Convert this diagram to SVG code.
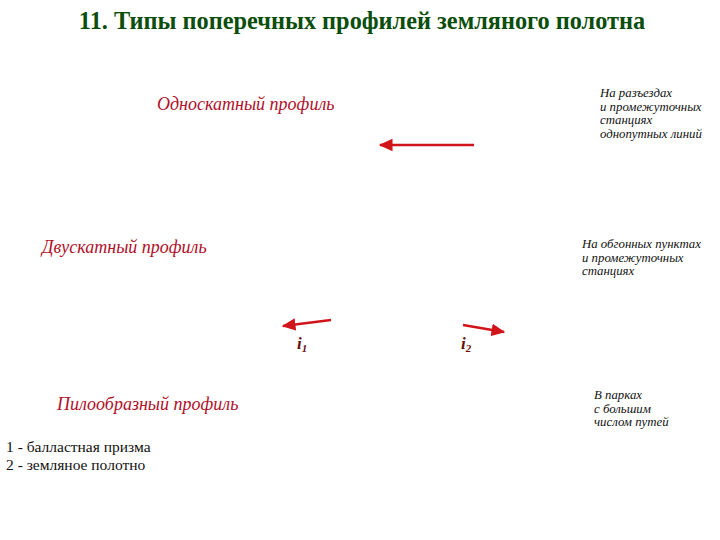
<svg xmlns="http://www.w3.org/2000/svg" width="720" height="540" viewBox="0 0 720 540">
<style>
.title{font-weight:bold;font-size:24.3px;fill:#0b4d0b}
.lab{font-style:italic;font-size:18px;fill:#b0102a}
.note{font-style:italic;font-size:12.8px;fill:#111}
.leg{font-size:15.5px;fill:#111}
.il{font-style:italic;font-weight:bold;font-size:17px;fill:#6a1010}
.sub{font-size:11px}
.ar{stroke:#d0141a;stroke-width:2.5;fill:none;marker-end:url(#ah)}
</style>
<defs>
<marker id="ah" markerWidth="6" markerHeight="6" refX="5" refY="3" orient="auto" markerUnits="strokeWidth">
<path d="M0,0.5 L5.5,3 L0,5.5 Z" fill="#d0141a"/>
</marker>
</defs>
<rect width="720" height="540" fill="#fff"/>
<text class="title" x="362" y="29" text-anchor="middle" font-family="Liberation Serif, DejaVu Serif, serif">11. Типы поперечных профилей земляного полотна</text>
<g id="single">
<text class="lab" x="157" y="110" font-family="Liberation Serif, DejaVu Serif, serif">Односкатный профиль</text>
<text class="note" x="600" y="97" font-family="Liberation Serif, DejaVu Serif, serif">На разъездах</text>
<text class="note" x="600" y="110.5" font-family="Liberation Serif, DejaVu Serif, serif">и промежуточных</text>
<text class="note" x="600" y="124" font-family="Liberation Serif, DejaVu Serif, serif">станциях</text>
<text class="note" x="600" y="137.5" font-family="Liberation Serif, DejaVu Serif, serif">однопутных линий</text>
</g>
<g id="double">
<text class="lab" x="42" y="253" font-family="Liberation Serif, DejaVu Serif, serif">Двускатный профиль</text>
<text class="note" x="582" y="248" font-family="Liberation Serif, DejaVu Serif, serif">На обгонных пунктах</text>
<text class="note" x="582" y="261.5" font-family="Liberation Serif, DejaVu Serif, serif">и промежуточных</text>
<text class="note" x="582" y="275" font-family="Liberation Serif, DejaVu Serif, serif">станциях</text>
</g>
<g id="saw">
<text class="lab" x="57" y="410" font-family="Liberation Serif, DejaVu Serif, serif">Пилообразный профиль</text>
<text class="note" x="594" y="399" font-family="Liberation Serif, DejaVu Serif, serif">В парках</text>
<text class="note" x="594" y="412.5" font-family="Liberation Serif, DejaVu Serif, serif">с большим</text>
<text class="note" x="594" y="426" font-family="Liberation Serif, DejaVu Serif, serif">числом путей</text>
</g>
<g id="slopes">
<text class="il" x="297" y="349" font-family="Liberation Serif, DejaVu Serif, serif">i<tspan class="sub" dy="3">1</tspan></text>
<text class="il" x="461" y="349" font-family="Liberation Serif, DejaVu Serif, serif">i<tspan class="sub" dy="3">2</tspan></text>
</g>
<g id="legend">
<text class="leg" x="6" y="452" font-family="Liberation Serif, DejaVu Serif, serif">1 - балластная призма</text>
<text class="leg" x="6" y="470" font-family="Liberation Serif, DejaVu Serif, serif">2 - земляное полотно</text>
</g>
<g id="connectors">
<line class="ar" x1="474" y1="145" x2="380" y2="145"/>
<line class="ar" x1="331" y1="320" x2="283" y2="326"/>
<line class="ar" x1="463" y1="325" x2="504" y2="332"/>
</g>
</svg>
